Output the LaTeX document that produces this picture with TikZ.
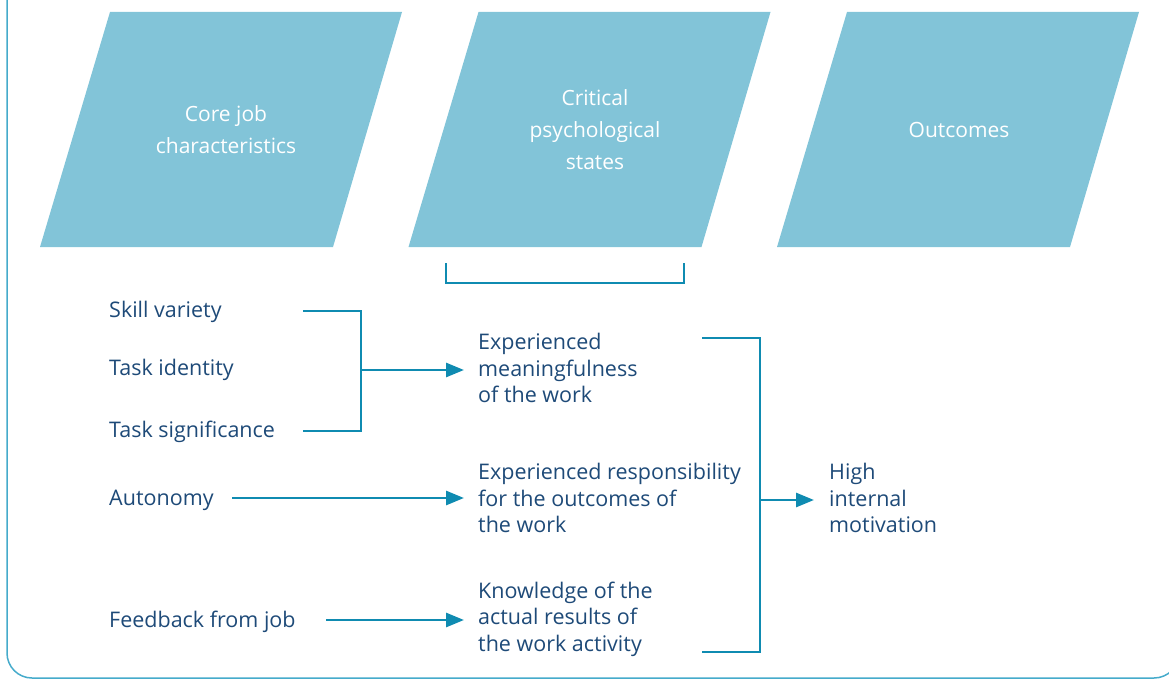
\documentclass[tikz,border=0pt]{standalone}
\usepackage{fontspec}
\setmainfont{Open Sans}
\usetikzlibrary{arrows.meta, positioning}
\definecolor{boxblue}{HTML}{82C4D8}
\definecolor{linkblue}{HTML}{0F8BB1}
\definecolor{inkblue}{HTML}{1E4A78}
\definecolor{frameblue}{HTML}{45ABCB}

\begin{document}
\begin{tikzpicture}[x=1pt, y=-1pt]

    % Define styles for the different parts
    \tikzstyle{heading} = [text=white, align=center, font=\fontsize{21}{32}\selectfont]
    \tikzstyle{trait} = [anchor=base west, inner sep=0, text=inkblue, font=\fontsize{21.5}{26.5}\selectfont]
    \tikzstyle{stage} = [anchor=west, inner sep=0, align=left, text=inkblue, font=\fontsize{21.5}{26.5}\selectfont]
    \tikzstyle{link} = [line width=2.8pt, linkblue]
    \tikzstyle{feed} = [link, -{Triangle[length=18pt, width=14pt]}]

    \useasboundingbox (0,0) rectangle (1169,679);

    % outer frame, cut at the top and right
    \begin{scope}
        \clip (0,0) rectangle (1169,679);
        \draw[frameblue, line width=1.5pt, rounded corners=25pt] (7,-40) -- (7,678) -- (1179,678) -- (1179,-40);
    \end{scope}

    % the three slanted banners
    \foreach \dx in {0, 368.5, 737}
        \fill[boxblue] (110+\dx,12) -- (402+\dx,12) -- (333+\dx,247) -- (40+\dx,247) -- cycle;

    \node (core) [heading] at (226,130) {Core job\\characteristics};
    \node (critical) [heading] at (595,130) {Critical\\psychological\\states};
    \node (outcomes) [heading] at (959,130) {Outcomes};

    % core job characteristics
    \node (skill) [trait] at (109,317) {Skill variety};
    \node (identity) [trait] at (109,375) {Task identity};
    \node (significance) [trait] at (109,437) {Task significance};
    \node (autonomy) [trait] at (109,505) {Autonomy};
    \node (feedback) [trait] at (109,627) {Feedback from job};

    % psychological states and outcome
    \node (meaning) [stage] at (478,368) {Experienced\\meaningfulness\\of the work};
    \node (responsibility) [stage] at (478,498) {Experienced responsibility\\for the outcomes of\\the work};
    \node (knowledge) [stage] at (478,619) {Knowledge of the\\actual results of\\the work activity};
    \node (motivation) [stage] at (829,498) {High\\internal\\motivation};

    \coordinate (skill end) at (303,311);
    \coordinate (significance end) at (303,431);
    \coordinate (join) at (361,370);
    \coordinate (autonomy end) at (232,498);
    \coordinate (feedback end) at (326,620);
    \coordinate (meaning end) at (702,338);
    \coordinate (knowledge end) at (702,652);
    \coordinate (gather) at (760,500);
    \coordinate (brace left) at (446,263);
    \coordinate (brace right) at (684,263);

    \draw[link] (brace left) -- ++(0,20) -| (brace right);

    \draw[link] (skill end) -| (join) |- (significance end);
    \draw[feed, shorten >=14pt] (join) -- (join -| meaning.west);
    \draw[feed, shorten >=14pt] (autonomy end) -- (autonomy end -| responsibility.west);
    \draw[feed, shorten >=14pt] (feedback end) -- (feedback end -| knowledge.west);

    \draw[link] (meaning end) -| (gather) |- (knowledge end);
    \draw[feed, shorten >=15pt] (gather) -- (gather -| motivation.west);

\end{tikzpicture}
\end{document}
